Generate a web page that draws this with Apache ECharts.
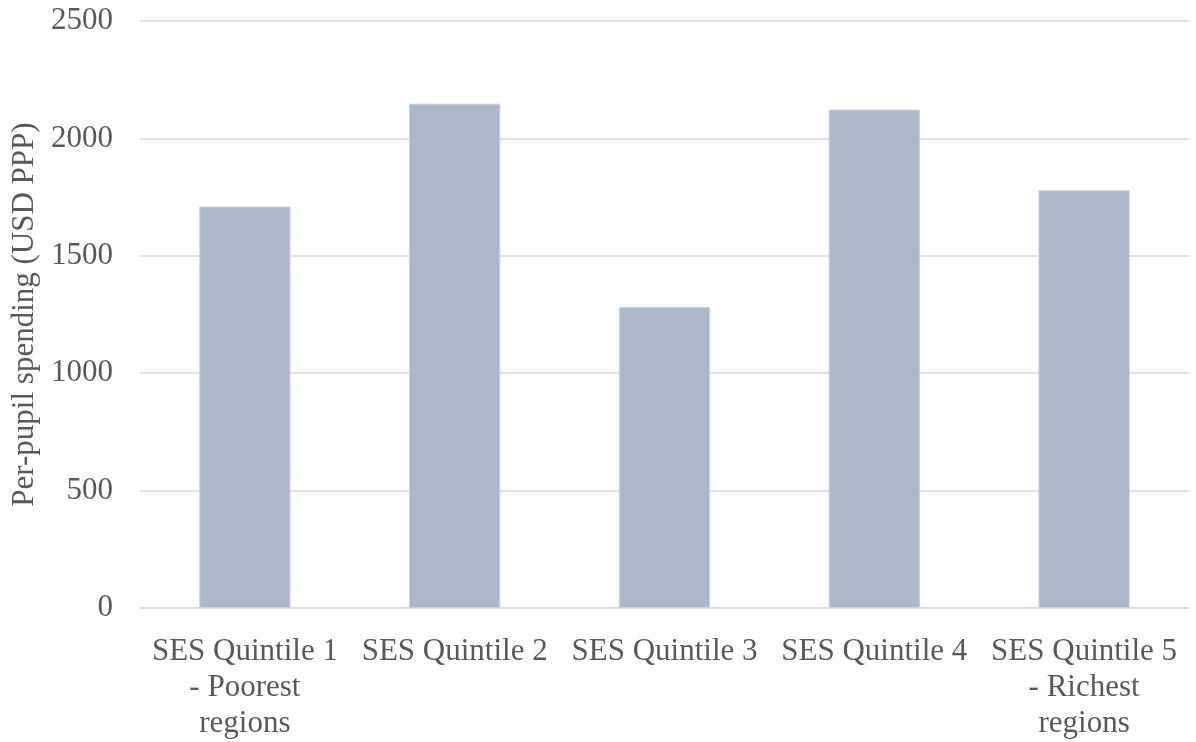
<!DOCTYPE html>
<html>
<head>
<meta charset="utf-8">
<script src="https://cdn.jsdelivr.net/npm/echarts@6/dist/echarts.min.js"></script>
<style>
  html, body { margin: 0; padding: 0; background: #ffffff; }
  #chart { width: 1196px; height: 742px; }
</style>
</head>
<body>
<div id="chart"></div>
<script>
// Per-pupil spending by regional socio-economic quintile
const categories = [
  'SES Quintile 1\n- Poorest\nregions',
  'SES Quintile 2',
  'SES Quintile 3',
  'SES Quintile 4',
  'SES Quintile 5\n- Richest\nregions'
];
const spending = [1710, 2148, 1282, 2123, 1779];
const yAxisTitle = 'Per-pupil spending (USD PPP)';

const textColor = '#595959';
const fontFamily = '"Liberation Serif", "Times New Roman", serif';

const chart = echarts.init(document.getElementById('chart'), null, { renderer: 'canvas' });
chart.setOption({
  animation: false,
  backgroundColor: '#ffffff',
  grid: { left: 140, right: 7, top: 21, bottom: 130, containLabel: false },
  xAxis: {
    type: 'category',
    data: categories,
    axisTick: { show: false },
    axisLine: { show: true, lineStyle: { color: '#d9d9d9', width: 1.5 } },
    axisLabel: {
      color: textColor,
      fontFamily: fontFamily,
      fontSize: 31,
      lineHeight: 36,
      margin: 26,
      interval: 0,
      align: 'center'
    }
  },
  yAxis: {
    type: 'value',
    min: 0,
    max: 2500,
    interval: 500,
    name: yAxisTitle,
    nameLocation: 'middle',
    nameGap: 99,
    nameTextStyle: { color: textColor, fontFamily: fontFamily, fontSize: 31 },
    axisLine: { show: false },
    axisTick: { show: false },
    splitLine: { lineStyle: { color: '#d9d9d9', width: 1.5 } },
    axisLabel: {
      color: textColor,
      fontFamily: fontFamily,
      fontSize: 31,
      margin: 27,
      formatter: (v) => String(v)
    }
  },
  series: [{
    type: 'bar',
    data: spending,
    barWidth: '43.5%',
    itemStyle: { color: '#adb8ca', borderColor: '#c9d1de', borderWidth: 1 }
  }]
});
</script>
</body>
</html>
